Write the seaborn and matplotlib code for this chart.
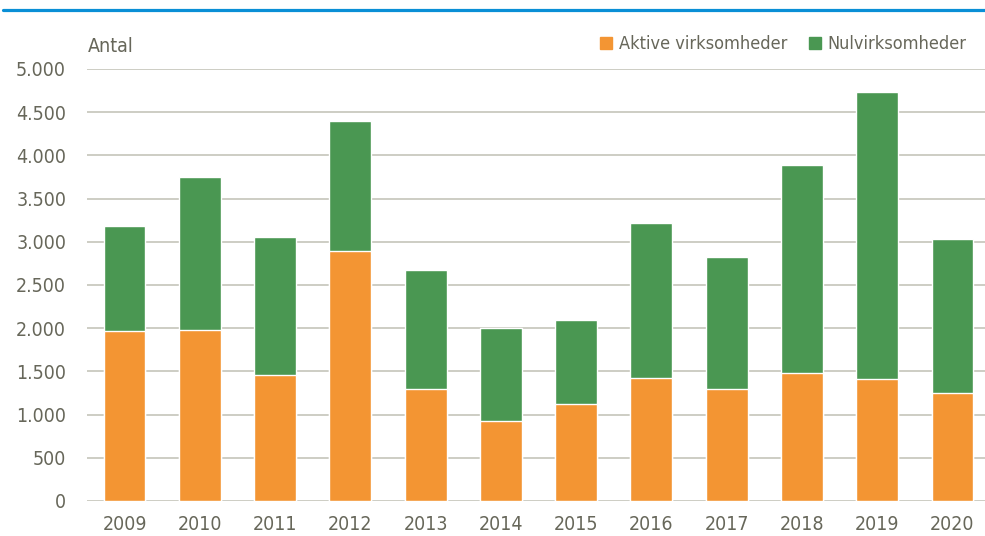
import pandas as pd
import seaborn as sns
import matplotlib.pyplot as plt
from matplotlib.lines import Line2D
from matplotlib.ticker import FuncFormatter

# Data
years = ['2009', '2010', '2011', '2012', '2013', '2014', '2015', '2016', '2017', '2018', '2019', '2020']
aktive = [1970, 1980, 1460, 2895, 1295, 930, 1120, 1425, 1296, 1478, 1412, 1250]
total = [3183, 3745, 3056, 4398, 2668, 2001, 2095, 3214, 2820, 3885, 4734, 3029]

df = pd.DataFrame({'year': years, 'aktive': aktive, 'total': total})

orange = '#F39533'
green = '#4A9752'
grey_txt = '#67675A'
grid_c = '#C9C9BF'

sns.set_style('white')
plt.rcParams['font.family'] = ['DejaVu Sans']
plt.rcParams['font.stretch'] = 'condensed'

fig = plt.figure(figsize=(9.85, 5.36), dpi=100)
ax = fig.add_axes([0.0883, 0.0653, 0.9168, 0.806])

# stacked bars: total in green, active on top in orange
sns.barplot(data=df, x='year', y='total', color=green, width=0.555, saturation=1, ax=ax, zorder=3)
sns.barplot(data=df, x='year', y='aktive', color=orange, width=0.555, saturation=1, ax=ax, zorder=4)

ax.set_ylim(0, 5000)
ax.set_xlim(-0.5, 11.5)
ax.set_yticks(range(0, 5001, 500))
ax.yaxis.set_major_formatter(FuncFormatter(lambda v, p: f'{int(v):,}'.replace(',', '.')))
ax.grid(axis='y', color=grid_c, linewidth=1.3, zorder=0)
ax.set_axisbelow(True)
for s in ax.spines.values():
    s.set_visible(False)
ax.tick_params(axis='both', length=0, labelsize=14, colors=grey_txt)
ax.tick_params(axis='y', pad=15)
ax.tick_params(axis='x', pad=10)
ax.set_xlabel('')
ax.set_ylabel('')

fig.text(0.089, 0.914, 'Antal', fontsize=14, color=grey_txt, va='center')

# legend
handles = [plt.Rectangle((0, 0), 1, 1, color=orange), plt.Rectangle((0, 0), 1, 1, color=green)]
fig.legend(handles, ['Aktive virksomheder', 'Nulvirksomheder'], loc='center right',
           bbox_to_anchor=(0.998, 0.917), ncol=2, frameon=False, fontsize=13,
           handlelength=0.7, handleheight=0.7, handletextpad=0.35, columnspacing=1.2,
           labelcolor=grey_txt)

# blue rule at the top
fig.add_artist(Line2D([0.003, 1.0], [0.981, 0.981], color='#0A8FD6', linewidth=2.3))

plt.savefig('out.png', dpi=100)
